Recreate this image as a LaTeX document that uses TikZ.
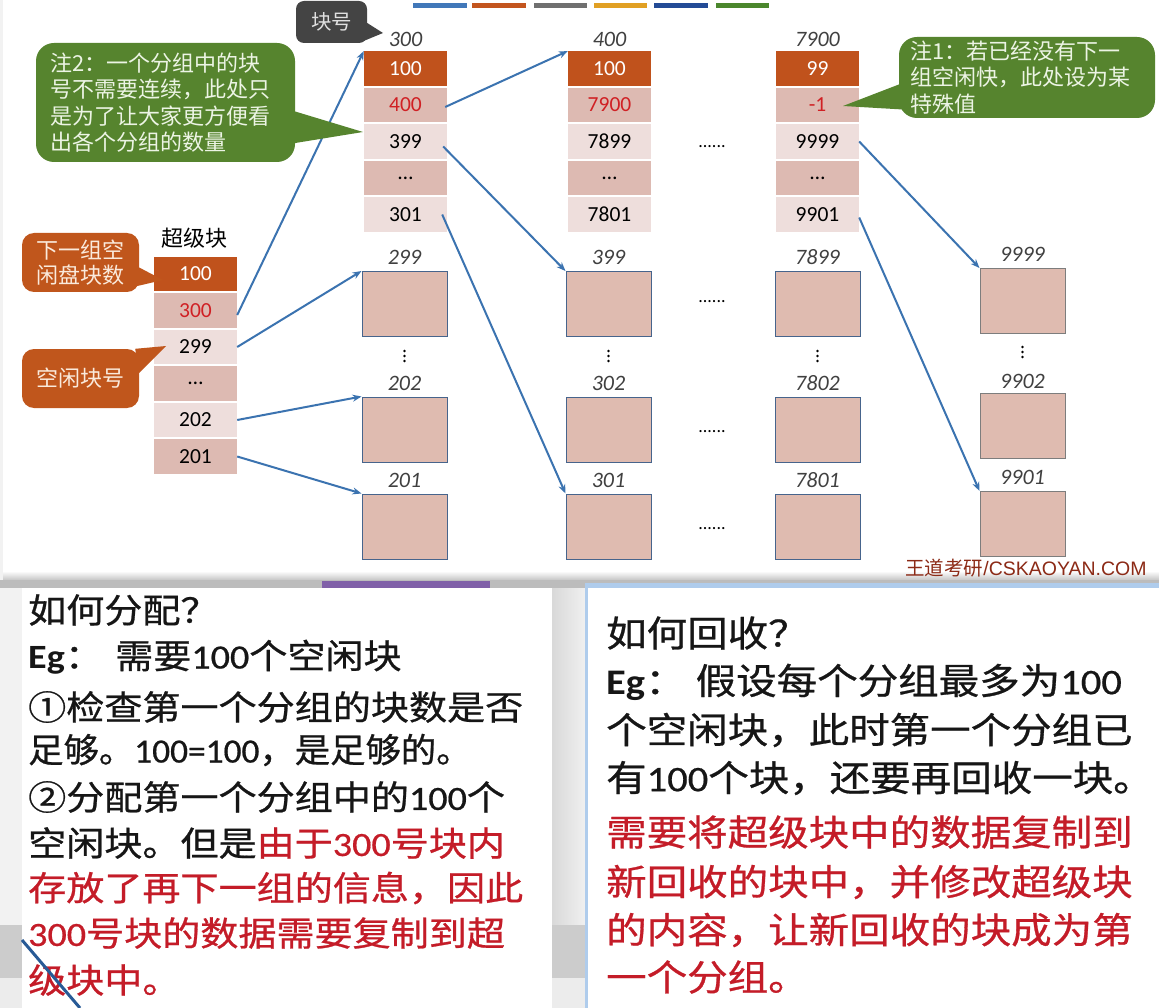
\documentclass[tikz,border=0pt]{standalone}
\usepackage{fontspec}
\usepackage{graphicx}
\setmainfont{Carlito}
\newfontfamily\cjk{Noto Sans CJK SC}
\newfontfamily\cjkb[FakeBold=0.7]{Noto Sans CJK SC}
\newfontfamily\lat{Carlito}
\newfontfamily\latb[FakeBold=0.5]{Carlito}
\newfontfamily\arialf{Liberation Sans}
\usetikzlibrary{arrows.meta}
\newcommand\myfs[2]{\fontsize{#1}{#2}\selectfont}
\definecolor{cOr}{RGB}{192,82,28}
\definecolor{pinkD}{RGB}{221,186,178}
\definecolor{pinkL}{RGB}{238,222,220}
\definecolor{sqF}{RGB}{223,187,176}
\definecolor{sqB}{RGB}{70,100,140}
\definecolor{sqG}{RGB}{125,125,125}
\definecolor{arrB}{RGB}{59,115,176}
\definecolor{cRed}{RGB}{208,32,36}
\definecolor{tRed}{RGB}{196,28,40}
\definecolor{labG}{RGB}{64,64,64}
\definecolor{grC}{RGB}{86,132,46}
\definecolor{grT}{RGB}{236,244,228}
\definecolor{orC}{RGB}{192,86,28}
\definecolor{orT}{RGB}{250,234,220}
\definecolor{dgC}{RGB}{68,68,68}
\definecolor{wmC}{RGB}{140,42,22}
\definecolor{stripG}{RGB}{188,188,188}
\definecolor{purp}{RGB}{128,96,168}
\definecolor{ltBlue}{RGB}{175,204,236}
\definecolor{barA}{RGB}{65,120,185}
\definecolor{barB}{RGB}{195,85,30}
\definecolor{barC}{RGB}{112,112,112}
\definecolor{barD}{RGB}{225,160,35}
\definecolor{barE}{RGB}{35,75,150}
\definecolor{barF}{RGB}{75,135,45}
\definecolor{txtK}{RGB}{22,22,22}
\definecolor{lineB}{RGB}{40,90,150}
\begin{document}
\begin{tikzpicture}[x=1pt,y=-1pt,
  cell/.style={minimum width=83pt, minimum height=34.5pt, inner sep=0pt, font=\lat\myfs{21.5}{21.5}},
  cO/.style={cell, fill=cOr, text=white},
  cD/.style={cell, fill=pinkD, text=black},
  cL/.style={cell, fill=pinkL, text=black},
  sq/.style={draw=sqB, fill=sqF, line width=1pt, minimum width=85pt, minimum height=65pt, inner sep=0pt},
  sqg/.style={sq, draw=sqG},
  lab/.style={font=\lat\itshape\myfs{22}{22}, text=labG, inner sep=0pt},
  arr/.style={draw=arrB, line width=2pt, -{Stealth[length=9pt,width=7pt]}},
  hdots/.style={font=\lat\myfs{18}{18}, inner sep=0pt},
  gcall/.style={fill=grC, text=grT, rounded corners=18pt, inner sep=0pt, align=left, font=\cjk\myfs{22}{26.5}},
  ocall/.style={fill=orC, text=orT, rounded corners=12pt, inner sep=0pt, align=center, font=\cjk\myfs{22}{25}, minimum width=117pt, minimum height=59pt},
  ltxt/.style={anchor=west, inner sep=0pt, text=txtK},
  bar/.style={inner sep=0pt, minimum height=5pt}
]
\useasboundingbox (0,0) rectangle (1159,1008);
% backgrounds
\fill[gray!10] (0,0) rectangle (1159,1008);
\fill[white] (3,0) rectangle (1159,578);
\shade[top color=white, bottom color=gray!45] (3,571) rectangle (1159,580);
\fill[stripG] (0,580) rectangle (1159,588);
\fill[purp] (322,581) rectangle (490,588);
\shade[left color=gray!30, right color=gray!12] (552,588) rectangle (585,1008);
\fill[gray!40] (0,925) rectangle (585,978);
\fill[gray!15] (0,978) rectangle (585,1008);
\fill[white] (22,588) rectangle (552,1008);
\fill[ltBlue] (585,583) rectangle (1159,588);
\fill[white] (588,588) rectangle (1159,1008);
\fill[ltBlue] (585,583) rectangle (588,1008);
% color bars
\node[bar, fill=barA, minimum width=54pt] (bar1) at (440,5.5) {};
\node[bar, fill=barB, minimum width=54pt] (bar2) at (499,5.5) {};
\node[bar, fill=barC, minimum width=53pt] (bar3) at (560.5,5.5) {};
\node[bar, fill=barD, minimum width=53pt] (bar4) at (620.5,5.5) {};
\node[bar, fill=barE, minimum width=54pt] (bar5) at (681,5.5) {};
\node[bar, fill=barF, minimum width=53pt] (bar6) at (742.5,5.5) {};
% superblock
\node[font=\cjk\myfs{22}{22}, inner sep=0pt] (title) at (194.5,238) {超级块};
\node[cO] (s1) at (195.5,274) {100};
\node[cD, text=cRed] (s2) at (195.5,310.5) {300};
\node[cL] (s3) at (195.5,347) {299};
\node[cD] (s4) at (195.5,383.5) {…};
\node[cL] (s5) at (195.5,420) {202};
\node[cD] (s6) at (195.5,456.5) {201};
% block 300
\node[lab] (la) at (405.5,39) {300};
\node[cO] (a1) at (405.5,68.5) {100};
\node[cD, text=cRed] (a2) at (405.5,105) {400};
\node[cL] (a3) at (405.5,141.5) {399};
\node[cD] (a4) at (405.5,178) {…};
\node[cL] (a5) at (405.5,214.5) {301};
% block 400
\node[lab] (lb) at (609.5,39) {400};
\node[cO] (b1) at (609.5,68.5) {100};
\node[cD, text=cRed] (b2) at (609.5,105) {7900};
\node[cL] (b3) at (609.5,141.5) {7899};
\node[cD] (b4) at (609.5,178) {…};
\node[cL] (b5) at (609.5,214.5) {7801};
% block 7900
\node[lab] (lc) at (817.5,39) {7900};
\node[cO] (c1) at (817.5,68.5) {99};
\node[cD, text=cRed] (c2) at (817.5,105) {-1};
\node[cL] (c3) at (817.5,141.5) {9999};
\node[cD] (c4) at (817.5,178) {…};
\node[cL] (c5) at (817.5,214.5) {9901};
\node[hdots] (d0) at (712,147) {......};
% free blocks
\node[lab] (lp1) at (404.5,257) {299};
\node[sq] (p1) at (404.5,304) {};
\node[lab] (lp2) at (404.5,383) {202};
\node[sq] (p2) at (404.5,429.5) {};
\node[lab] (lp3) at (404.5,480) {201};
\node[sq] (p3) at (404.5,526.5) {};
\node[lab] (lq1) at (608.5,257) {399};
\node[sq] (q1) at (608.5,304) {};
\node[lab] (lq2) at (608.5,383) {302};
\node[sq] (q2) at (608.5,429.5) {};
\node[lab] (lq3) at (608.5,480) {301};
\node[sq] (q3) at (608.5,526.5) {};
\node[lab] (lr1) at (817.5,257) {7899};
\node[sq] (r1) at (817.5,304) {};
\node[lab] (lr2) at (817.5,383) {7802};
\node[sq] (r2) at (817.5,429.5) {};
\node[lab] (lr3) at (817.5,480) {7801};
\node[sq] (r3) at (817.5,526.5) {};
\node[lab] (lw1) at (1022.5,254) {9999};
\node[sqg] (w1) at (1022.5,301) {};
\node[lab] (lw2) at (1022.5,381) {9902};
\node[sqg] (w2) at (1022.5,426) {};
\node[lab] (lw3) at (1022.5,477) {9901};
\node[sqg] (w3) at (1022.5,524) {};
\node[hdots] (d1) at (712,302) {......};
\node[hdots] (d2) at (712,432) {......};
\node[hdots] (d3) at (712,529) {......};
% vertical dots
\foreach \vx/\vy in {404.5/356, 608.5/356, 817.5/356, 1022.5/352}
  \foreach \dy in {-5,0,5} \fill[black] (\vx,\vy+\dy) circle (1.3pt);
% arrows
\draw[arr] ([yshift=-4.5pt]s2.east) -- (a1.north west);
\draw[arr] (s3.east) -- (p1.north west);
\draw[arr] (s5.east) -- (p2.north west);
\draw[arr] (s6.east) -- (p3.north west);
\draw[arr] ([xshift=-2pt,yshift=-2pt]a2.east) -- (b1.north west);
\draw[arr] ([xshift=-4pt,yshift=-5pt]a3.east) -- (q1.north west);
\draw[arr] ([xshift=-5pt]a5.east) -- (q3.north west);
\draw[arr] (c3.east) -- (w1.north west);
\draw[arr] ([yshift=-3pt]c5.east) -- (w3.north west);
% callouts
\node[gcall, minimum width=259pt, minimum height=119pt, text width=231pt] (n2) at (165.5,102.5)
  {注2：一个分组中的块\\号不需要连续，此处只\\是为了让大家更方便看\\出各个分组的数量};
\coordinate (t2) at (363,132);
\fill[grC] ([yshift=-9pt]n2.east) -- (t2) -- ([xshift=-3pt,yshift=-41pt]n2.east) -- cycle;
\node[gcall, minimum width=256pt, minimum height=81pt, text width=234pt] (n1) at (1027,77.5)
  {注1：若已经没有下一\\组空闲快，此处设为某\\特殊值};
\coordinate (t1) at (843,106);
\fill[grC] ([yshift=-7pt]n1.west) -- (t1) -- ([xshift=4pt,yshift=-32pt]n1.west) -- cycle;
\node[fill=dgC, text=white!88!black, rounded corners=8pt, minimum width=71pt, minimum height=42pt, inner sep=0pt, font=\cjk\myfs{20.5}{20.5}] (nb) at (331.5,22) {块号};
\coordinate (tb) at (383,33);
\fill[dgC] ([yshift=-1pt]nb.east) -- (tb) -- ([xshift=-6pt,yshift=-20pt]nb.east) -- cycle;
\node[ocall] (o1) at (80.5,262.5) {下一组空\\闲盘块数};
\coordinate (to1) at (163,280);
\fill[orC] ([yshift=-5pt]o1.east) -- (to1) -- ([xshift=-4pt,yshift=-24pt]o1.east) -- cycle;
\node[ocall] (o2) at (80.5,378.5) {空闲块号};
\coordinate (to2) at (166,346);
\fill[orC] ([xshift=-4pt]o2.north east) -- (to2) -- ([yshift=-24pt]o2.north east) -- cycle;
% watermark
\node[inner sep=0pt, text=wmC] (wm) at (1026,568) {{\cjk\myfs{19.5}{19.5}王道考研}{\arialf\myfs{19.5}{19.5}/CSKAOYAN.COM}};
% left panel text
\node[ltxt] (l1) at (28,610) {\scalebox{1.12}[1]{\cjkb\myfs{34}{40}如何分配？}};
\node[ltxt] (l2) at (28,657) {\scalebox{1.12}[1]{\myfs{34}{40}{\lat\bfseries Eg}{\cjkb ：\hspace{11pt}需要}{\latb 100}{\cjkb 个空闲块}}};
\node[ltxt] (l3) at (28,707) {\scalebox{1.12}[1]{\cjkb\myfs{34}{40}①检查第一个分组的块数是否}};
\node[ltxt] (l4) at (28,750) {\scalebox{1.04}[1]{\myfs{34}{40}{\cjkb 足够。}{\latb 100=100}{\cjkb ，是足够的。}}};
\node[ltxt] (l5) at (28,797) {\scalebox{1.12}[1]{\myfs{34}{40}{\cjkb ②分配第一个分组中的}{\latb 100}{\cjkb 个}}};
\node[ltxt] (l6) at (28,843) {\scalebox{1.12}[1]{\myfs{34}{40}{\cjkb 空闲块。但是}\color{tRed}{\cjkb 由于}{\latb 300}{\cjkb 号块内}}};
\node[ltxt, text=tRed] (l7) at (28,888) {\scalebox{1.12}[1]{\cjkb\myfs{34}{40}存放了再下一组的信息，因此}};
\node[ltxt, text=tRed] (l8) at (28,933) {\scalebox{1.12}[1]{\myfs{34}{40}{\latb 300}{\cjkb 号块的数据需要复制到超}}};
\node[ltxt, text=tRed] (l9) at (28,980) {\scalebox{1.12}[1]{\cjkb\myfs{34}{40}级块中。}};
% right panel text
\node[ltxt] (m1) at (606,633) {\scalebox{1.125}[1]{\cjkb\myfs{36}{40}如何回收？}};
\node[ltxt] (m2) at (606,682) {\scalebox{1.125}[1]{\myfs{36}{40}{\lat\bfseries Eg}{\cjkb ：\hspace{9pt}假设每个分组最多为}{\latb 100}}};
\node[ltxt] (m3) at (606,730) {\scalebox{1.125}[1]{\cjkb\myfs{36}{40}个空闲块，此时第一个分组已}};
\node[ltxt] (m4) at (606,778) {\scalebox{1.125}[1]{\myfs{36}{40}{\cjkb 有}{\latb 100}{\cjkb 个块，还要再回收一块。}}};
\node[ltxt, text=tRed] (m5) at (606,832) {\scalebox{1.125}[1]{\cjkb\myfs{36}{40}需要将超级块中的数据复制到}};
\node[ltxt, text=tRed] (m6) at (606,882) {\scalebox{1.125}[1]{\cjkb\myfs{36}{40}新回收的块中，并修改超级块}};
\node[ltxt, text=tRed] (m7) at (606,930) {\scalebox{1.125}[1]{\cjkb\myfs{36}{40}的内容，让新回收的块成为第}};
\node[ltxt, text=tRed] (m8) at (606,977) {\scalebox{1.125}[1]{\cjkb\myfs{36}{40}一个分组。}};
% stray line bottom-left
\coordinate (z1) at (22,940);
\coordinate (z2) at (80,1008);
\draw[lineB, line width=3pt] (z1) -- (z2);
\end{tikzpicture}
\end{document}
